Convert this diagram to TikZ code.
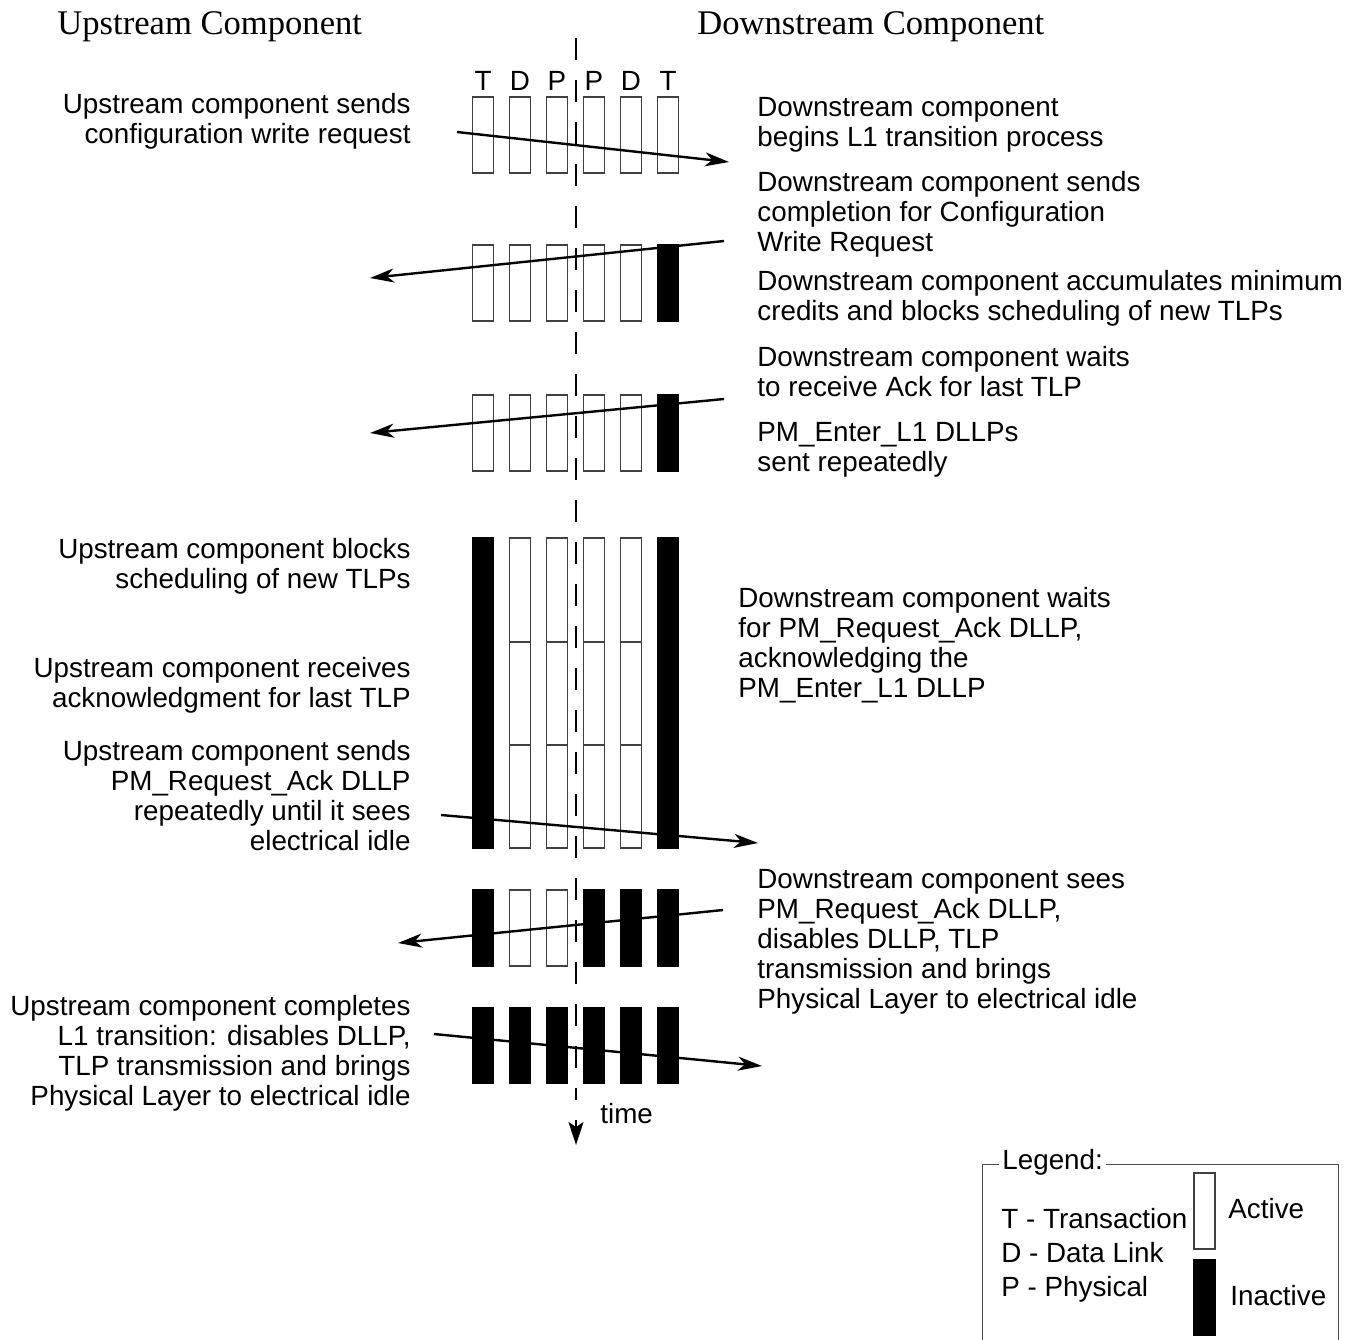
\documentclass[tikz,border=0pt]{standalone}
\usepackage{fontspec}
\setmainfont{Liberation Serif}
\setsansfont{Liberation Sans}
\usetikzlibrary{arrows.meta,positioning,calc}
\tikzset{
  hdr/.style={font=\fontsize{17.3}{20}\selectfont\rmfamily, inner sep=0pt},
  note/.style={font=\fontsize{13.9}{15}\selectfont\sffamily, inner sep=0pt},
  actv/.style={draw=black!75, line width=0.6pt, fill=white},
  idle/.style={draw=black, line width=0.6pt, fill=black},
  msg/.style={-{Stealth[length=12pt, width=7pt, inset=3.5pt]}, line width=1.2pt},
  timeline/.style={dash pattern=on 11pt off 10pt, line width=0.75pt},
  timetip/.style={-{Stealth[length=11.5pt, width=7.5pt, inset=2.5pt]}, line width=0.75pt},
  legbox/.style={draw=black!70, line width=0.5pt},
}
% one step of the six lanes: top, bottom, states T D P P D T
\newcommand{\lanerow}[3]{%
  \foreach \s [count=\i] in {#3}
    \draw[\s] (435.5+37*\i,#1) rectangle (456.5+37*\i,#2);
}
\begin{document}
\begin{tikzpicture}[x=0.5pt, y=-0.5pt]
\useasboundingbox (0,0) rectangle (1354,1339);

\node[hdr, anchor=base west] (upHdr) at (57,34) {Upstream Component};
\node[hdr, anchor=base west] (dnHdr) at (697,34) {Downstream Component};
\foreach \t [count=\i] in {T,D,P,P,D,T}
  \node[note, anchor=base] (lane\i) at (446+37*\i,90) {\t};

% time axis
\coordinate (t0) at (576,38);
\coordinate (t1) at (576,1100);
\coordinate (t2) at (576,1145);
\draw[timeline] (t0) -- (t1);
\draw[timetip] (576,1120) -- (t2);
\node[note, anchor=base west] (timeLbl) at (600,1123) {time};

% lanes
\lanerow{97}{173}{actv,actv,actv,actv,actv,actv}
\lanerow{245}{321}{actv,actv,actv,actv,actv,idle}
\lanerow{395}{471}{actv,actv,actv,actv,actv,idle}
\lanerow{538}{848}{idle,actv,actv,actv,actv,idle}
\foreach \i in {2,...,5}
  \draw[actv] (435.5+37*\i,642) -- (456.5+37*\i,642) (435.5+37*\i,745) -- (456.5+37*\i,745);
\lanerow{890}{966}{idle,actv,actv,idle,idle,idle}
\lanerow{1008}{1083}{idle,idle,idle,idle,idle,idle}

% upstream notes
\node[note, align=right, anchor=north east] (up1) at (411,93) {Upstream component sends\\configuration write request};
\node[note, align=right, anchor=north east] (up2) at (411,538) {Upstream component blocks\\scheduling of new TLPs};
\node[note, align=right, anchor=north east] (up3) at (411,657) {Upstream component receives\\acknowledgment for last TLP};
\node[note, align=right, anchor=north east] (up4) at (411,740) {Upstream component sends\\PM\_Request\_Ack DLLP\\repeatedly until it sees\\electrical idle};
\node[note, align=right, anchor=north east] (up5) at (411,995) {Upstream component completes\\L1 transition: disables DLLP,\\TLP transmission and brings\\Physical Layer to electrical idle};

% downstream notes
\node[note, align=left, anchor=north west] (dn1) at (757,97) {Downstream component\\begins L1 transition process};
\node[note, align=left, anchor=north west] (dn2) at (757,171) {Downstream component sends\\completion for Configuration\\Write Request};
\node[note, align=left, anchor=north west] (dn3) at (757,270) {Downstream component accumulates minimum\\credits and blocks scheduling of new TLPs};
\node[note, align=left, anchor=north west] (dn4) at (757,346) {Downstream component waits\\to receive Ack for last TLP};
\node[note, align=left, anchor=north west] (dn5) at (757,422) {PM\_Enter\_L1 DLLPs\\sent repeatedly};
\node[note, align=left, anchor=north west] (dn6) at (738,587) {Downstream component waits\\for PM\_Request\_Ack DLLP,\\acknowledging the\\PM\_Enter\_L1 DLLP};
\node[note, align=left, anchor=north west] (dn7) at (757,869) {Downstream component sees\\PM\_Request\_Ack DLLP,\\disables DLLP, TLP\\transmission and brings\\Physical Layer to electrical idle};

% messages
\coordinate (m1a) at (457,132);  \coordinate (m1b) at (729,162);
\coordinate (m2a) at (724,241);  \coordinate (m2b) at (370,278);
\coordinate (m3a) at (724,399);  \coordinate (m3b) at (370,433);
\coordinate (m4a) at (441,815);  \coordinate (m4b) at (758,843);
\coordinate (m5a) at (723,910);  \coordinate (m5b) at (398,943);
\coordinate (m6a) at (434,1034); \coordinate (m6b) at (762,1066);
\foreach \m in {1,...,6}
  \draw[msg] (m\m a) -- (m\m b);

% legend
\draw[legbox] (982,1345) |- (1338,1164) -- (1338,1345);
\node[note, anchor=base west, fill=white, inner xsep=1.75pt] (legTtl) at (998.5,1169) {Legend:};
\node[note, align=left, anchor=north west, font=\fontsize{13.9}{17}\selectfont\sffamily] (legKeys) at (1001,1208) {T - Transaction\\D - Data Link\\P - Physical};
\draw[actv] (1194,1173) rectangle (1215,1249);
\draw[idle] (1194,1260) rectangle (1215,1335);
\node[note, anchor=base west] (legOn) at (1228,1218) {Active};
\node[note, anchor=base west] (legOff) at (1230,1305) {Inactive};
\end{tikzpicture}
\end{document}
